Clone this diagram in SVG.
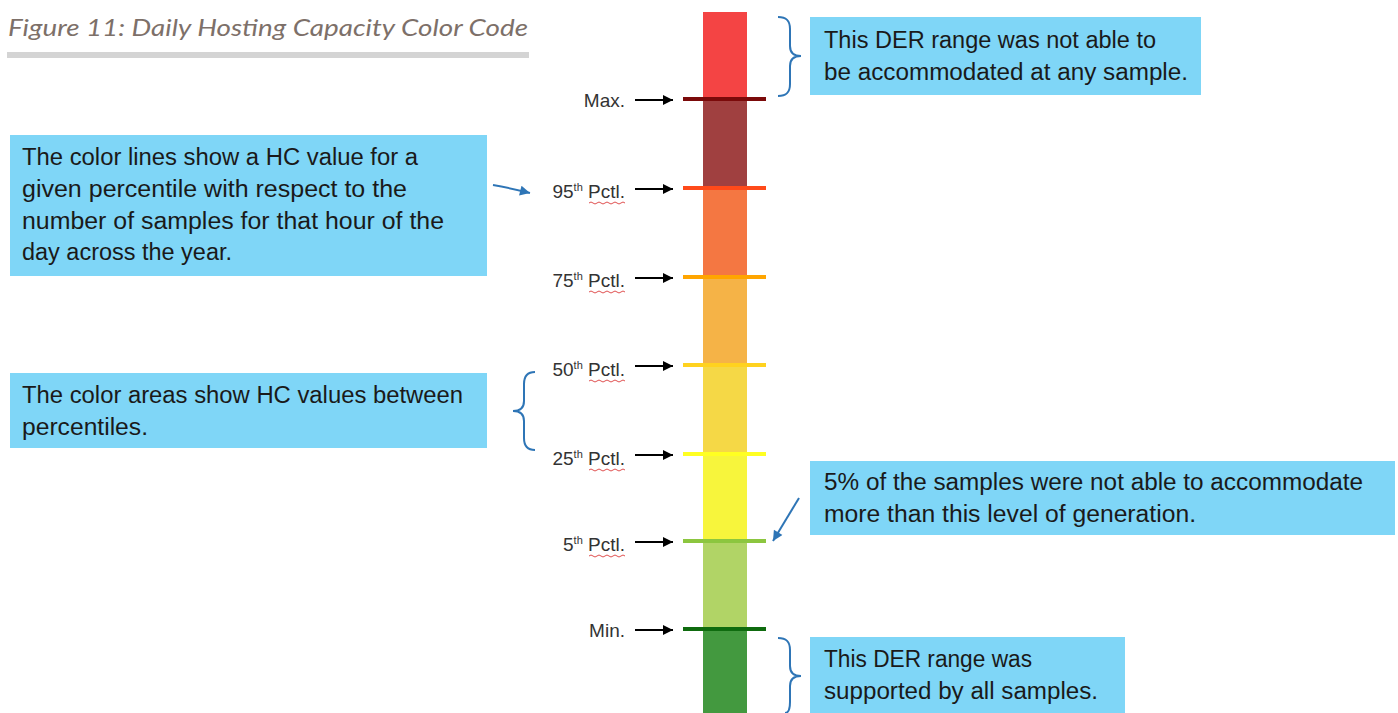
<svg xmlns="http://www.w3.org/2000/svg" width="1398" height="713" viewBox="0 0 1398 713">
<defs>
<marker id="ah" viewBox="0 0 10 10" refX="10" refY="5" markerWidth="12" markerHeight="10" markerUnits="userSpaceOnUse" orient="auto"><path d="M0,0 L10,5 L0,10 z" fill="#000"/></marker>
<marker id="ahb" viewBox="0 0 10 10" refX="10" refY="5" markerWidth="12" markerHeight="10" markerUnits="userSpaceOnUse" orient="auto"><path d="M0,0 L10,5 L0,10 z" fill="#2E75B6"/></marker>
<style>
.box{fill:#7FD6F7}
.bt{font-family:"Liberation Sans",Arial,sans-serif;font-size:23px;fill:#1a1a1a}
.lb{font-family:"Liberation Sans",Arial,sans-serif;font-size:19px;fill:#333}
.sup{font-size:11px}
.ar{stroke:#000;stroke-width:2;fill:none;marker-end:url(#ah)}
.arb{stroke:#2E75B6;stroke-width:2;fill:none;marker-end:url(#ahb)}
.brace{stroke:#2E75B6;stroke-width:2;fill:none}
.wavy{stroke:#E05050;stroke-width:1;fill:none}
.pl{stroke-width:4}
</style>
</defs>
<rect width="1398" height="713" fill="#fff"/>
<g id="title">
<text x="8" y="36" font-family="Lato,'Open Sans',sans-serif" font-style="italic" font-size="24" fill="#7D7069" textLength="520" lengthAdjust="spacingAndGlyphs">Figure 11: Daily Hosting Capacity Color Code</text>
<rect x="7" y="52" width="522" height="6" fill="#D4D4D4"/>
</g>
<g id="bar">
<rect x="703" y="12" width="44" height="87" fill="#F44444"/>
<rect x="703" y="99" width="44" height="89" fill="#A04040"/>
<rect x="703" y="188" width="44" height="89" fill="#F47742"/>
<rect x="703" y="277" width="44" height="88" fill="#F5B347"/>
<rect x="703" y="365" width="44" height="89" fill="#F5D846"/>
<rect x="703" y="454" width="44" height="87" fill="#F7F53C"/>
<rect x="703" y="541" width="44" height="88" fill="#B1D466"/>
<rect x="703" y="629" width="44" height="84" fill="#43993F"/>
<line class="pl" x1="683" y1="99" x2="766" y2="99" stroke="#7B0A0A"/>
<line class="pl" x1="683" y1="188" x2="766" y2="188" stroke="#FF4A1A"/>
<line class="pl" x1="683" y1="277" x2="766" y2="277" stroke="#FFA500"/>
<line class="pl" x1="683" y1="365" x2="766" y2="365" stroke="#FFD21F"/>
<line class="pl" x1="683" y1="454" x2="766" y2="454" stroke="#FFFF22"/>
<line class="pl" x1="683" y1="541" x2="766" y2="541" stroke="#8CC63F"/>
<line class="pl" x1="683" y1="629" x2="766" y2="629" stroke="#0F6B0F"/>
</g>
<g id="labels">
<text class="lb" x="625" y="107" text-anchor="end">Max.</text>
<text class="lb" x="625" y="198" text-anchor="end">95<tspan class="sup" dy="-7">th</tspan><tspan dy="7"> Pctl.</tspan></text>
<path class="wavy" d="M589,203 q2,-2 4,0 t4,0 t4,0 t4,0 t4,0 t4,0 t4,0 t4,0 t4,0"/>
<text class="lb" x="625" y="287" text-anchor="end">75<tspan class="sup" dy="-7">th</tspan><tspan dy="7"> Pctl.</tspan></text>
<path class="wavy" d="M589,292 q2,-2 4,0 t4,0 t4,0 t4,0 t4,0 t4,0 t4,0 t4,0 t4,0"/>
<text class="lb" x="625" y="376" text-anchor="end">50<tspan class="sup" dy="-7">th</tspan><tspan dy="7"> Pctl.</tspan></text>
<path class="wavy" d="M589,381 q2,-2 4,0 t4,0 t4,0 t4,0 t4,0 t4,0 t4,0 t4,0 t4,0"/>
<text class="lb" x="625" y="465" text-anchor="end">25<tspan class="sup" dy="-7">th</tspan><tspan dy="7"> Pctl.</tspan></text>
<path class="wavy" d="M589,470 q2,-2 4,0 t4,0 t4,0 t4,0 t4,0 t4,0 t4,0 t4,0 t4,0"/>
<text class="lb" x="625" y="551" text-anchor="end">5<tspan class="sup" dy="-7">th</tspan><tspan dy="7"> Pctl.</tspan></text>
<path class="wavy" d="M589,556 q2,-2 4,0 t4,0 t4,0 t4,0 t4,0 t4,0 t4,0 t4,0 t4,0"/>
<text class="lb" x="625" y="637" text-anchor="end">Min.</text>
</g>
<g id="connectors">
<line class="ar" x1="635" y1="100" x2="673" y2="100"/>
<line class="ar" x1="635" y1="189" x2="673" y2="189"/>
<line class="ar" x1="635" y1="278" x2="673" y2="278"/>
<line class="ar" x1="635" y1="366" x2="673" y2="366"/>
<line class="ar" x1="635" y1="455" x2="673" y2="455"/>
<line class="ar" x1="635" y1="542" x2="673" y2="542"/>
<line class="ar" x1="635" y1="630" x2="673" y2="630"/>
<path class="arb" d="M493,185 Q510,188 530,193"/>
<line class="arb" x1="799" y1="498" x2="773" y2="541"/>
<path class="brace" d="M778,17 C787,17 790,21 790,29 L790,46 C790,53 794,56 801,56 C794,56 790,59 790,66 L790,84 C790,92 787,96 778,96"/>
<path class="brace" d="M535,372 C527,372 524,376 524,384 L524,401 C524,408 520,411 513,411 C520,411 524,414 524,421 L524,438 C524,446 527,450 535,450"/>
<path class="brace" d="M778,638 C787,638 790,642 790,650 L790,666 C790,673 794,676 801,676 C794,676 790,679 790,686 L790,702 C790,709 788,713 785,713"/>
</g>
<g id="box-lines">
<rect class="box" x="10" y="135" width="477" height="141"/>
<text class="bt" x="22" y="165" textLength="396" lengthAdjust="spacingAndGlyphs">The color lines show a HC value for a</text>
<text class="bt" x="22" y="197" textLength="385" lengthAdjust="spacingAndGlyphs">given percentile with respect to the</text>
<text class="bt" x="22" y="229" textLength="422" lengthAdjust="spacingAndGlyphs">number of samples for that hour of the</text>
<text class="bt" x="22" y="260" textLength="210" lengthAdjust="spacingAndGlyphs">day across the year.</text>
</g>
<g id="box-areas">
<rect class="box" x="10" y="373" width="477" height="75"/>
<text class="bt" x="22" y="403" textLength="441" lengthAdjust="spacingAndGlyphs">The color areas show HC values between</text>
<text class="bt" x="22" y="435" textLength="126" lengthAdjust="spacingAndGlyphs">percentiles.</text>
</g>
<g id="box-top">
<rect class="box" x="810" y="17" width="391" height="78"/>
<text class="bt" x="824" y="48" textLength="332" lengthAdjust="spacingAndGlyphs">This DER range was not able to</text>
<text class="bt" x="824" y="80" textLength="364" lengthAdjust="spacingAndGlyphs">be accommodated at any sample.</text>
</g>
<g id="box-5pct">
<rect class="box" x="810" y="461" width="585" height="74"/>
<text class="bt" x="824" y="490" textLength="539" lengthAdjust="spacingAndGlyphs">5% of the samples were not able to accommodate</text>
<text class="bt" x="824" y="522" textLength="372" lengthAdjust="spacingAndGlyphs">more than this level of generation.</text>
</g>
<g id="box-bottom">
<rect class="box" x="810" y="637" width="315" height="76"/>
<text class="bt" x="824" y="667" textLength="208" lengthAdjust="spacingAndGlyphs">This DER range was</text>
<text class="bt" x="824" y="699" textLength="274" lengthAdjust="spacingAndGlyphs">supported by all samples.</text>
</g>
</svg>
